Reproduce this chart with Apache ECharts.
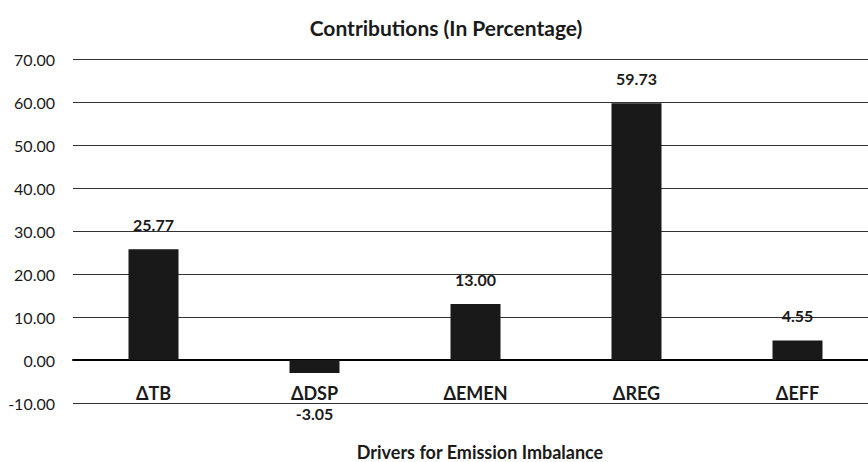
<!DOCTYPE html>
<html>
<head>
<meta charset="utf-8">
<script src="https://cdn.jsdelivr.net/npm/echarts@6/dist/echarts.min.js"></script>
<style>
  html, body { margin: 0; padding: 0; background: #fff; }
  #chart { width: 868px; height: 462px; }
</style>
</head>
<body>
<div id="chart"></div>
<script>
// Values.
var drivers = ['ΔTB', 'ΔDSP', 'ΔEMEN', 'ΔREG', 'ΔEFF'];
var contributions = [25.77, -3.05, 13.00, 59.73, 4.55];

var FONT = 'Lato, "Open Sans", sans-serif';

var chart = echarts.init(document.getElementById('chart'), null, {
  renderer: 'svg',
  width: 868,
  height: 462,
});

var barData = contributions.map(function (v) {
  var item = { value: v };
  // The negative bar gets its label underneath.
  if (v < 0) {
    item.label = { position: 'bottom', distance: 32 };
  }
  return item;
});

var option = {
  animation: false,
  backgroundColor: '#ffffff',
  title: [{
    text: 'Contributions (In Percentage)',
    left: 441,
    textAlign: 'center',
    top: 12,
    textStyle: {
      fontFamily: FONT,
      fontWeight: 'bold',
      fontSize: 21,
      color: '#1a1a1a',
    },
  }, {
    // x axis title, centred under the plot area
    text: 'Drivers for Emission Imbalance',
    left: 475,
    textAlign: 'center',
    top: 438,
    textStyle: {
      fontFamily: FONT,
      fontWeight: 'bold',
      fontSize: 18,
      color: '#1a1a1a',
    },
  }],
  grid: {
    left: 73,
    top: 59,
    width: 805,
    height: 344,
    containLabel: false,
    outerBoundsMode: 'none',
  },
  xAxis: {
    type: 'category',
    data: drivers,
    axisLine: {
      onZero: true,
      lineStyle: { color: '#000', width: 2 },
    },
    axisTick: { show: false },
    axisLabel: {
      margin: -19,
      fontFamily: FONT,
      fontWeight: 'bold',
      fontSize: 18,
      color: '#1a1a1a',
    },
  },
  yAxis: {
    type: 'value',
    min: -10,
    max: 70,
    interval: 10,
    axisLine: { show: false },
    axisTick: { show: false },
    axisLabel: {
      margin: 18,
      fontFamily: FONT,
      fontSize: 16,
      color: '#1a1a1a',
      formatter: function (v) { return v.toFixed(2); },
    },
    splitLine: {
      lineStyle: { color: '#333', width: 1.2 },
    },
  },
  series: [{
    type: 'bar',
    data: barData,
    barWidth: 50,
    itemStyle: { color: '#181918' },
    label: {
      show: true,
      position: 'top',
      distance: 17,
      fontFamily: FONT,
      fontWeight: 'bold',
      fontSize: 16,
      color: '#1a1a1a',
      formatter: function (p) { return p.value.toFixed(2); },
    },
  }],
};

chart.setOption(option);
</script>
</body>
</html>
